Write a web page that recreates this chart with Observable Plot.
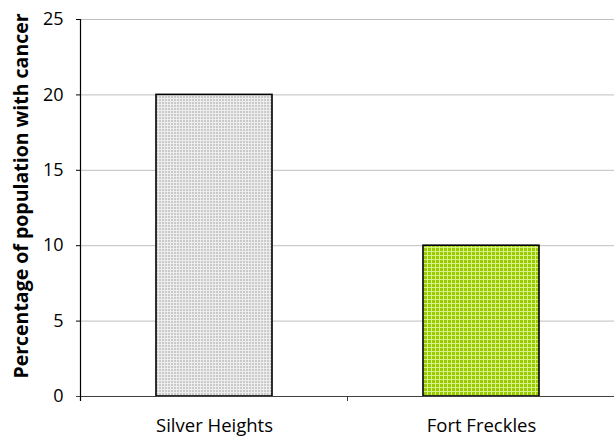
<!DOCTYPE html>
<html><head><meta charset="utf-8">
<script src="https://cdn.jsdelivr.net/npm/d3@7"></script>
<script src="https://cdn.jsdelivr.net/npm/@observablehq/plot@0.6"></script>
<style>body{margin:0;background:#fff;}</style>
</head><body><div id="chart"></div>
<script>
const categories = ["Silver Heights", "Fort Freckles"];
const values = [20, 10];
const barFills = ["url(#pat-silver)", "url(#pat-green)"];
const yTicks = [0, 5, 10, 15, 20, 25];
const yTitle = "Percentage of population with cancer";

const data = categories.map((c, i) => ({category: c, value: values[i], fill: barFills[i]}));
const FONT = "'Open Sans', sans-serif";

const plot = Plot.plot({
  width: 614, height: 436,
  marginLeft: 80, marginRight: 0, marginTop: 19, marginBottom: 40,
  style: {fontFamily: FONT, fontSize: "18px", color: "#000", background: "#fff", overflow: "visible"},
  x: {domain: categories, paddingInner: 0.567, paddingOuter: 0.2835, label: null},
  y: {domain: [0, 25], label: null},
  color: {type: "identity"},
  marks: [
    Plot.gridY(yTicks.slice(1), {stroke: "#bfbfbf", strokeOpacity: 1}),
    Plot.axisY(yTicks, {tickSize: 4, tickPadding: 13, fontSize: 18, stroke: "#000", label: null}),
    Plot.axisX({tickSize: 0, tickPadding: 22, fontSize: 18.5, label: null}),
    Plot.barY(data, {x: "category", y: "value", fill: "fill", stroke: "#000", strokeWidth: 1.6}),
    Plot.ruleY([0], {stroke: "#404040", strokeWidth: 1.2, insetLeft: -4}),
    Plot.text([yTitle], {frameAnchor: "left", textAnchor: "middle", rotate: -90, dx: -59, dy: -12, fontWeight: "bold", fontSize: 19.5})
  ]
});

const svg = d3.select(plot);
const defs = svg.insert("defs", ":first-child");
const p1 = defs.append("pattern").attr("id", "pat-silver").attr("patternUnits", "userSpaceOnUse").attr("width", 3).attr("height", 3);
p1.append("rect").attr("width", 3).attr("height", 3).attr("fill", "#ededed");
p1.append("rect").attr("width", 2).attr("height", 2).attr("fill", "#cacaca");
const p2 = defs.append("pattern").attr("id", "pat-green").attr("patternUnits", "userSpaceOnUse").attr("width", 4).attr("height", 4);
p2.append("rect").attr("width", 4).attr("height", 4).attr("fill", "#d9f08a");
p2.append("rect").attr("width", 3).attr("height", 3).attr("fill", "#99cc00");

// axis line and category separator ticks derived from the scales
const x = plot.scale("x"), y = plot.scale("y");
const y0 = y.apply(0), yTop = y.apply(25);
const edges = [];
categories.forEach((c, i) => {
  const center = x.apply(c) + x.bandwidth / 2;
  if (i === 0) edges.push(center - x.step / 2);
  edges.push(center + x.step / 2);
});
const g = svg.append("g");
g.append("line").attr("x1", edges[0]).attr("x2", edges[0]).attr("y1", yTop).attr("y2", y0 + 5).attr("stroke", "#000").attr("stroke-width", 1.2);
edges.slice(1).forEach(e => {
  g.append("line").attr("x1", e).attr("x2", e).attr("y1", y0).attr("y2", y0 + 5).attr("stroke", "#404040");
});
document.getElementById("chart").appendChild(plot);
</script>
</body></html>
